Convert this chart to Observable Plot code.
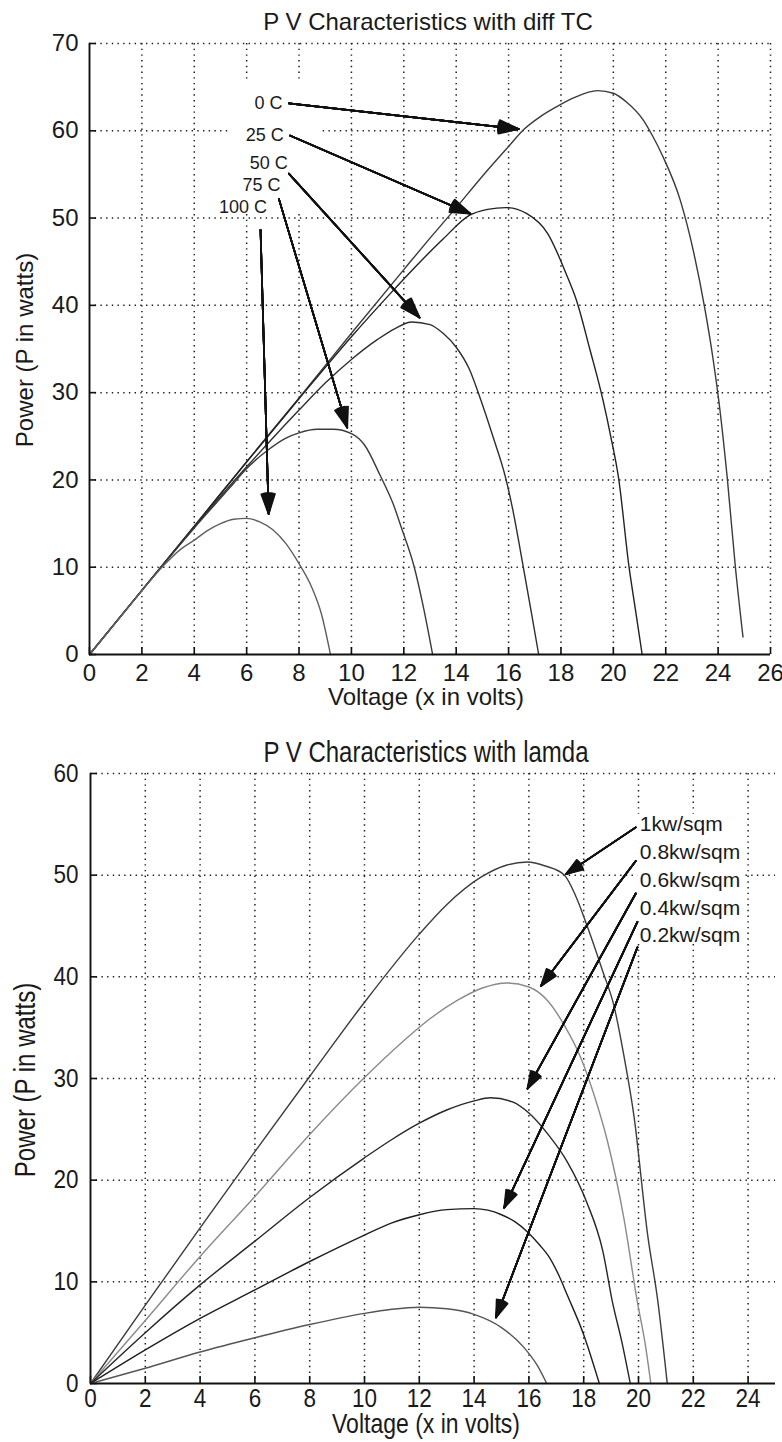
<!DOCTYPE html>
<html><head><meta charset="utf-8">
<script src="https://cdn.jsdelivr.net/npm/d3@7"></script>
<script src="https://cdn.jsdelivr.net/npm/@observablehq/plot@0.6"></script>
<style>
html,body{margin:0;padding:0;background:#fff;}
#page{position:relative;width:782px;height:1442px;overflow:hidden;background:#fff;color:#1a1a1a;}
.t{position:absolute;white-space:nowrap;line-height:1;font-family:"Liberation Sans",Arial,sans-serif;}
.c{transform:translate(-50%,-50%);}
.r{transform:translate(-50%,-50%) rotate(-90deg);}
.cs{transform:translate(-50%,-50%) scaleY(1.2);}
.rs{transform:translate(-50%,-50%) rotate(-90deg) scaleY(1.2);}
.plotbox{position:absolute;left:0;}
</style></head>
<body><div id="page"></div>
<script>
// ---------- Chart 1: P V characteristics with diff TC ----------
const tcTitle = "P V Characteristics with diff TC";
const tcLabels = ["0 C", "25 C", "50 C", "75 C", "100 C"];
const tcXTicks = [0,2,4,6,8,10,12,14,16,18,20,22,24,26];
const tcYTicks = [0,10,20,30,40,50,60,70];
const pv0C = [[0,0],[2,7.35],[4,14.7],[6,22.1],[8,29.4],[10,36.8],[12,44.1],[13,47.7],[14,51.2],[15,54.8],[16,58.2],[16.6,60.2],[17.2,61.6],[17.8,62.7],[18.5,63.8],[19.4,64.6],[20,64.3],[20.5,63.3],[21.15,61.2],[21.5,59.4],[21.9,57],[22.56,52],[23.05,46.3],[23.5,39.5],[23.8,34],[24.05,28.5],[24.35,20.2],[24.66,10],[24.95,2]];
const pv25C = [[0,0],[2,7.35],[4,14.7],[6,22.05],[8,29.3],[10,36.4],[11.5,41.4],[12.5,44.6],[13.5,47.6],[14.5,50.3],[15.2,51],[15.9,51.2],[16.7,50.5],[17.5,48.2],[18.2,43.6],[18.6,40.5],[19.1,35],[19.6,29.2],[19.9,25],[20.2,20.2],[20.6,10],[20.85,5],[21.1,0]];
const pv50C = [[0,0],[2,7.35],[4,14.6],[5,18.1],[6,21.5],[7,24.8],[8,28],[9,31.1],[10,33.8],[11,36.1],[11.7,37.4],[12.3,38.1],[13,37.8],[13.5,36.8],[14,35.2],[14.5,32.7],[14.9,29.5],[15.4,25],[15.9,20.1],[16.2,16],[16.45,11.9],[16.8,6],[17.15,0]];
const pv75C = [[0,0],[2,7.35],[4,14.5],[5,17.9],[5.5,19.6],[6,21.3],[6.8,23.4],[7.5,24.8],[8,25.4],[8.7,25.8],[9.3,25.8],[10,25.3],[10.5,24],[11.1,20.5],[11.6,17.2],[11.9,14.6],[12.4,10],[12.75,5.4],[13.1,0]];
const pv100C = [[0,0],[1,3.65],[2,7.3],[2.8,10.1],[3.5,12.1],[4,13.1],[4.5,14.2],[5,15],[5.5,15.5],[6,15.6],[6.5,15.2],[7,14.3],[7.5,12.7],[8,10.4],[8.5,7.6],[8.85,4.7],[9.2,0]];
const tcSeries = [pv0C, pv25C, pv50C, pv75C, pv100C];
const tcLabelAt = [[7.37,63.1],[7.42,59.45],[7.57,56.3],[7.29,53.8],[6.78,51.2]];
const tcArrowFrom = [[7.61,63.15],[7.65,59.45],[7.61,55.1],[7.23,52.2],[6.53,48.65]];
const tcArrowTo = [[16.39,60.2],[14.54,50.5],[12.6,38.6],[9.84,26.0],[6.84,16.1]];
const tcBox = [[5.4,8.8,50.6,65.7]];

// ---------- Chart 2: P V characteristics with lamda ----------
const lmTitle = "P V Characteristics with lamda";
const lmLabels = ["1kw/sqm", "0.8kw/sqm", "0.6kw/sqm", "0.4kw/sqm", "0.2kw/sqm"];
const lmXTicks = [0,2,4,6,8,10,12,14,16,18,20,22,24];
const lmYTicks = [0,10,20,30,40,50,60];
const pv1000 = [[0,0],[2,7.7],[4,15.3],[6,22.8],[8,30.2],[10,37.5],[12,44.2],[13,47.1],[14.25,49.8],[15.2,51],[15.95,51.3],[16.6,50.9],[17.3,50],[17.7,48],[18.14,44.9],[18.7,40.5],[19.1,37.2],[19.45,32.5],[19.84,26.2],[20.33,14.7],[20.7,8.2],[21.05,0]];
const pv800 = [[0,0],[2,6.2],[4,12.5],[6,18.4],[8,24.5],[10,30.1],[11.3,33.4],[12.5,36.1],[13.4,37.7],[14.3,38.9],[15.2,39.4],[16,39],[16.7,37.6],[17.3,35.2],[17.9,32],[18.4,28.2],[18.87,23.8],[19.47,16.2],[19.96,8],[20.25,3.8],[20.45,0]];
const pv600 = [[0,0],[2,5],[4,9.7],[6,14],[8,18.3],[10,22.2],[11,24],[12,25.6],[13,26.9],[14,27.8],[14.6,28.1],[15.4,27.7],[16,26.6],[16.7,24.5],[17.4,21.8],[18.1,17.9],[18.7,13],[19.05,8],[19.4,4],[19.7,0]];
const pv400 = [[0,0],[2,3.3],[4,6.4],[6,9.2],[8,12],[10,14.6],[11,15.8],[12,16.6],[13,17.1],[14,17.2],[14.5,17.05],[15,16.6],[15.5,15.9],[15.95,14.9],[16.4,13.6],[16.7,12.6],[17.1,10.6],[17.4,8.7],[18,4.8],[18.57,0]];
const pv200 = [[0,0],[2,1.5],[4,3.1],[6,4.5],[8,5.8],[10,6.9],[11,7.3],[12,7.5],[13,7.35],[14,6.8],[15,5.5],[15.8,3.6],[16.3,1.8],[16.65,0]];
const lmSeries = [pv1000, pv800, pv600, pv400, pv200];
const lmLabelAt = [[20.05,55.0],[20.05,52.3],[20.05,49.5],[20.05,46.7],[20.05,44.1]];
const lmArrowFrom = [[19.9,54.7],[19.9,51.4],[19.9,48.2],[19.96,45.4],[19.96,42.9]];
const lmArrowTo = [[17.35,50.1],[16.44,39.1],[15.95,29.0],[15.1,17.3],[14.8,6.5]];
const lmBox = [[19.97,23.8,43.3,56.0]];

// ---------- helpers ----------
const REG = '"Liberation Sans", Arial, sans-serif';
const page = document.getElementById("page");
function addText(txt, cls, x, y, size) {
  const d = document.createElement("div");
  d.className = "t " + cls;
  d.style.left = x + "px"; d.style.top = y + "px"; d.style.fontSize = size + "px";
  d.textContent = txt;
  page.appendChild(d);
}
function rowsOf(series, labels) {
  return series.flatMap((s, i) => s.map(([v, p]) => ({v, p, k: labels[i]})));
}
function arrowsOf(labels, from, to) {
  return labels.map((k, i) => ({k, x1: from[i][0], y1: from[i][1], x2: to[i][0], y2: to[i][1]}));
}
function labelsOf(labels, at) {
  return labels.map((k, i) => ({k, x: at[i][0], y: at[i][1]}));
}
function boxesOf(b) { return b.map(([x1, x2, y1, y2]) => ({x1, x2, y1, y2})); }
function filledArrows(data, len, sw) {
  return [38, 32, 26, 20, 14, 8, 3].map(a => Plot.arrow(data, {
    x1: "x1", y1: "y1", x2: "x2", y2: "y2", stroke: "#111", strokeWidth: sw,
    headAngle: a, headLength: len * 1.5 / sw
  }));
}
const DOT = {stroke: "#1e1e1e", strokeWidth: 1.5, strokeDasharray: "1.4,4.3"};

function makeChart(cfg) {
  const {xDom, yDom, xT, yT, series, labels, colors, lblAt, aFrom, aTo, box,
         width, height, mL, mR, mT, mB, tickFs, padX, padY, lblFs, lblAnchor, headLen, rightGrid} = cfg;
  const plotW = width - mL - mR, plotH = height - mT - mB;
  const tkY = 7 * (yDom[1] - yDom[0]) / plotH;
  const tkX = 7 * (xDom[1] - xDom[0]) / plotW;
  const gx = rightGrid ? xT.concat([xDom[1]]).filter((v, i, a) => a.indexOf(v) === i) : xT;
  return Plot.plot({
    width, height, marginLeft: mL, marginRight: mR, marginTop: mT, marginBottom: mB,
    style: {fontFamily: REG, fontSize: tickFs + "px", color: "#1a1a1a", background: "transparent", overflow: "visible"},
    x: {domain: xDom, ticks: xT, tickSize: 0, tickPadding: padX, label: null},
    y: {domain: yDom, ticks: yT, tickSize: 0, tickPadding: padY, label: null},
    color: {domain: labels, range: colors},
    marks: [
      Plot.ruleX(gx.filter(v => v > 0), {...DOT}),
      Plot.ruleY(yT.filter(v => v > 0), {...DOT}),
      Plot.rect(boxesOf(box), {x1: "x1", x2: "x2", y1: "y1", y2: "y2", fill: "white"}),
      Plot.ruleX(xT, {y1: yDom[0], y2: yDom[0] + tkY, stroke: "#111", strokeWidth: 1.6}),
      Plot.ruleY(yT, {x1: xDom[0], x2: xDom[0] + tkX, stroke: "#111", strokeWidth: 1.6}),
      Plot.line(rowsOf(series, labels), {x: "v", y: "p", z: "k", stroke: "k", strokeWidth: 1.4, curve: "monotone-x"}),
      ...filledArrows(arrowsOf(labels, aFrom, aTo), headLen, 1.7),
      Plot.text(labelsOf(labels, lblAt), {x: "x", y: "y", text: "k", textAnchor: lblAnchor, fontSize: lblFs, fontFamily: REG, fill: "#1a1a1a"}),
      Plot.ruleX([xDom[0]], {stroke: "#111", strokeWidth: 1.9}),
      Plot.ruleY([yDom[0]], {stroke: "#111", strokeWidth: 1.9})
    ]
  });
}
// vertical stretch of tick labels (the lower figure's lettering is tall and narrow)
function num(s) { return (s == null || /[a-z%]/i.test(s)) ? 0 : (parseFloat(s) || 0); }
function stretchTicks(svg, k) {
  svg.querySelectorAll("g[aria-label$='tick label'] text").forEach(t => {
    const x = num(t.getAttribute("x")), y = num(t.getAttribute("y"));
    const tr = t.getAttribute("transform") || "";
    t.setAttribute("transform", (tr + ` translate(${x},${y}) scale(1,${k}) translate(${-x},${-y})`).trim());
  });
}

// ---------- chart 1 ----------
addText(tcTitle, "c", 428, 22, 24);
const c1 = makeChart({
  xDom: [0, 26], yDom: [0, 70], xT: tcXTicks, yT: tcYTicks, series: tcSeries, labels: tcLabels,
  colors: ["#3a3a3a", "#222", "#2e2e2e", "#3a3a3a", "#5e5e5e"],
  lblAt: tcLabelAt, aFrom: tcArrowFrom, aTo: tcArrowTo, box: tcBox,
  width: 782, height: 680, mL: 89, mR: 12, mT: 11, mB: 58,
  tickFs: 24, padX: 9, padY: 11, lblFs: 18, lblAnchor: "end", headLen: 21, rightGrid: true
});
const w1 = document.createElement("div"); w1.className = "plotbox"; w1.style.top = "32px";
w1.appendChild(c1); page.appendChild(w1);
addText("Voltage (x in volts)", "c", 426, 697, 24);
addText("Power (P in watts)", "r", 25, 350, 24);

// ---------- chart 2 ----------
addText(lmTitle, "cs", 426, 752, 24);
const c2 = makeChart({
  xDom: [0, 25], yDom: [0, 60], xT: lmXTicks, yT: lmYTicks, series: lmSeries, labels: lmLabels,
  colors: ["#3c3c3c", "#8a8a8a", "#262626", "#1e1e1e", "#555"],
  lblAt: lmLabelAt, aFrom: lmArrowFrom, aTo: lmArrowTo, box: lmBox,
  width: 782, height: 680, mL: 90, mR: 7, mT: 11, mB: 59,
  tickFs: 22.5, padX: 5, padY: 12, lblFs: 21, lblAnchor: "start", headLen: 18, rightGrid: false
});
const w2 = document.createElement("div"); w2.className = "plotbox"; w2.style.top = "762px";
w2.appendChild(c2); page.appendChild(w2);
stretchTicks(c2, 1.15);
addText("Voltage (x in volts)", "cs", 426, 1424, 23);
addText("Power (P in watts)", "rs", 25, 1080, 24);
</script>
</body></html>
